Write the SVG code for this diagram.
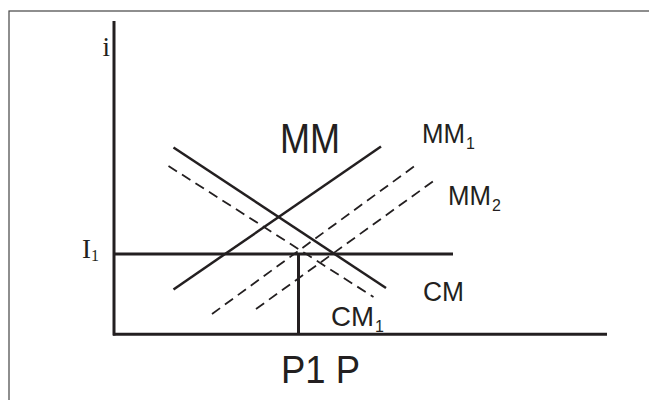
<svg xmlns="http://www.w3.org/2000/svg" width="649" height="400" viewBox="0 0 649 400">
<style>
.axis{stroke:#231f20;stroke-width:3;fill:none}
.solid{stroke:#231f20;stroke-width:2.5;fill:none}
.dash{stroke:#231f20;stroke-width:1.8;fill:none;stroke-dasharray:10 6}
.sans{font-family:"Liberation Sans",Arial,sans-serif;fill:#231f20}
.serif{font-family:"Liberation Serif","Times New Roman",serif;fill:#231f20}
</style>
<rect x="9" y="11" width="660" height="410" fill="#fff" stroke="#444" stroke-width="1.2"/>
<g id="connectors">
<line class="axis" x1="114" y1="21" x2="114" y2="335.5"/>
<line class="axis" x1="113" y1="334.3" x2="607" y2="334.3"/>
<line class="axis" x1="114" y1="254" x2="453" y2="254"/>
<line class="axis" x1="298.5" y1="254" x2="298.5" y2="334"/>
<line class="solid" x1="173.5" y1="289.5" x2="381" y2="146.5"/>
<line class="solid" x1="173.5" y1="147.5" x2="386" y2="288"/>
<line class="dash" x1="168.5" y1="166" x2="373.5" y2="297"/>
<line class="dash" x1="212" y1="314" x2="416" y2="165"/>
<line class="dash" x1="256" y1="309" x2="437" y2="178.5"/>
</g>
<g id="label-i"><text class="serif" x="102.5" y="56" font-size="27">i</text></g>
<g id="label-I1"><text class="serif" x="82" y="258" font-size="27">I<tspan font-size="16" dy="2.5">1</tspan></text></g>
<g id="label-MM"><text class="sans" x="280" y="153" font-size="42" textLength="60" lengthAdjust="spacingAndGlyphs">MM</text></g>
<g id="label-MM1"><text class="sans" x="422" y="143" font-size="27" textLength="43" lengthAdjust="spacingAndGlyphs">MM</text><text class="sans" x="466" y="149" font-size="16">1</text></g>
<g id="label-MM2"><text class="sans" x="448" y="205" font-size="27" textLength="43" lengthAdjust="spacingAndGlyphs">MM</text><text class="sans" x="492" y="211" font-size="16">2</text></g>
<g id="label-CM"><text class="sans" x="423" y="301" font-size="27" textLength="41" lengthAdjust="spacingAndGlyphs">CM</text></g>
<g id="label-CM1"><text class="sans" x="331" y="326" font-size="28" textLength="43" lengthAdjust="spacingAndGlyphs">CM</text><text class="sans" x="375" y="332" font-size="16">1</text></g>
<g id="label-P"><text class="sans" x="281" y="383" font-size="38" textLength="79" lengthAdjust="spacingAndGlyphs">P1 P</text></g>
</svg>
